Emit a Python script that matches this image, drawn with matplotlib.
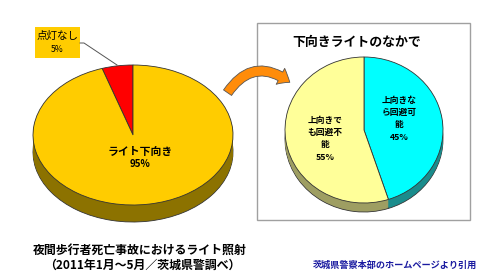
import matplotlib
matplotlib.use("Agg")
import matplotlib.pyplot as plt
from matplotlib.patches import Rectangle, FancyArrowPatch

plt.rcParams['font.family'] = ['Noto Sans CJK JP', 'DejaVu Sans']

# ---- data ----
left_labels = ['点灯なし', 'ライト下向き']
left_values = [5, 95]
left_colors = ['#FF0000', '#FFCC00']
left_side = ['#A00000', '#8C7200']

right_labels = ['上向きなら回避可能', '上向きでも回避不能']
right_values = [45, 55]
right_colors = ['#00FFFF', '#FFFF99']
right_side = ['#1A8C8C', '#9E9E62']

title_right = '下向きライトのなかで'
caption1 = '夜間歩行者死亡事故におけるライト照射'
caption2 = '（2011年1月～5月／茨城県警調べ）'
source = '茨城県警察本部のホームページより引用'

W, H = 490, 277
fig = plt.figure(figsize=(W / 100, H / 100), dpi=100)
fig.patch.set_facecolor('white')


def px_axes(x0, y0, w, h, zorder=0):
    ax = fig.add_axes([x0 / W, 1 - (y0 + h) / H, w / W, h / H], zorder=zorder)
    return ax


# background overlay (box)
bg = px_axes(0, 0, W, H, zorder=0)
bg.set_xlim(0, W)
bg.set_ylim(H, 0)
bg.axis('off')
bg.add_patch(Rectangle((257, 23), 213, 197, facecolor='white',
                       edgecolor='#A0A0A0', lw=1.0))


def pie3d(values, colors, side, cx, cy, rx, ry, thick, counterclock, z):
    pad = 4
    ax = px_axes(cx - rx - pad, cy - ry - pad, 2 * rx + 2 * pad,
                 2 * ry + thick + 2 * pad, zorder=z)
    t = thick / ry
    n = int(thick) + 1
    # bottom layer with outline
    ax.pie(values, colors=side, startangle=90, counterclock=counterclock,
           radius=1, center=(0, -t),
           wedgeprops=dict(edgecolor='#333333', linewidth=0.6))
    for k in range(1, n):
        yoff = -t + t * k / n
        ax.pie(values, colors=side, startangle=90, counterclock=counterclock,
               radius=1, center=(0, yoff),
               wedgeprops=dict(edgecolor='none', linewidth=0))
    ax.pie(values, colors=colors, startangle=90, counterclock=counterclock,
           radius=1, center=(0, 0),
           wedgeprops=dict(edgecolor='#333333', linewidth=0.6))
    ax.set_aspect('auto')
    ax.set_xlim(-1 - pad / rx, 1 + pad / rx)
    ax.set_ylim(-1 - (thick + pad) / ry, 1 + pad / ry)
    ax.axis('off')
    return ax


pie3d(left_values, left_colors, left_side, 133, 135, 100, 70, 17, True, 1)
pie3d(right_values, right_colors, right_side, 364, 130, 79, 73, 9, False, 1)

# foreground overlay
fg = px_axes(0, 0, W, H, zorder=5)
fg.set_xlim(0, W)
fg.set_ylim(H, 0)
fg.axis('off')
fg.patch.set_alpha(0)

# label box for small slice
fg.add_patch(Rectangle((35, 27), 45, 31, facecolor='#FFCC00', edgecolor='none'))
fg.plot([80, 84, 117], [43, 43, 65], color='#555555', lw=0.7)
fg.text(57.5, 36, left_labels[0], ha='center', va='center', fontsize=7.6)
fg.text(57.5, 50, f'{left_values[0]}%', ha='center', va='center', fontsize=6.2)

fg.text(140, 152, left_labels[1], ha='center', va='center', fontsize=7.8,
        fontweight='bold')
fg.text(140, 164, f'{left_values[1]}%', ha='center', va='center', fontsize=7.0,
        fontweight='bold')

# right pie labels
rl = ['上向きな', 'ら回避可', '能', f'{right_values[0]}%']
for i, s in enumerate(rl):
    fg.text(399, 100 + 12.4 * i, s, ha='center', va='center', fontsize=6.3,
            fontweight='bold')
ll = ['上向きで', 'も回避不', '能', f'{right_values[1]}%']
for i, s in enumerate(ll):
    fg.text(325, 120 + 12.4 * i, s, ha='center', va='center', fontsize=6.3,
            fontweight='bold')

fg.text(357, 42, title_right, ha='center', va='center', fontsize=9.3,
        fontweight='bold')

# curved arrow
arr = FancyArrowPatch((226, 95), (292, 84),
                      connectionstyle='arc3,rad=-0.55',
                      arrowstyle='simple,head_length=8,head_width=13,tail_width=7',
                      facecolor='#FF8C0A', edgecolor='#555555', lw=0.6,
                      mutation_scale=1)
fg.add_patch(arr)

fg.text(140, 250, caption1, ha='center', va='center', fontsize=8.6,
        fontweight='bold')
fg.text(142, 265, caption2, ha='center', va='center', fontsize=8.6,
        fontweight='bold')
fg.text(395, 265, source, ha='center', va='center', fontsize=6.6,
        fontweight='bold', color='#1A1AA0')

fig.savefig('out.png', dpi=100)
